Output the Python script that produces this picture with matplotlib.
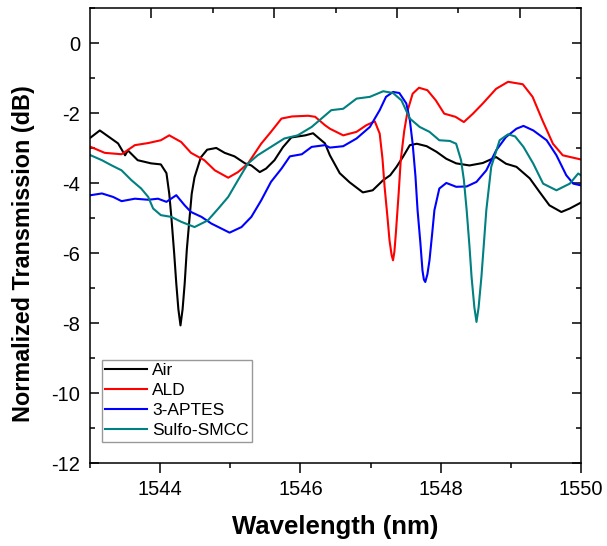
import matplotlib
matplotlib.use("Agg")
import matplotlib.pyplot as plt
from matplotlib.ticker import MultipleLocator, FixedLocator

plt.rcParams['font.family'] = ['Liberation Sans', 'DejaVu Sans']
plt.rcParams['axes.unicode_minus'] = False

# Transmission spectra (wavelength in nm, normalized transmission in dB)
air_wl = [1543.01, 1543.14, 1543.40, 1543.50, 1543.54, 1543.68, 1543.87, 1544.01, 1544.09,
          1544.13, 1544.16, 1544.20, 1544.23, 1544.26, 1544.29, 1544.32, 1544.35, 1544.38,
          1544.42, 1544.45, 1544.49, 1544.58, 1544.67, 1544.80, 1544.92, 1545.06, 1545.21,
          1545.30, 1545.42, 1545.51, 1545.63, 1545.75, 1545.87, 1546.07, 1546.18, 1546.25,
          1546.35, 1546.42, 1546.56, 1546.70, 1546.89, 1547.03, 1547.18, 1547.28, 1547.37,
          1547.46, 1547.56, 1547.66, 1547.80, 1547.94, 1548.08, 1548.22, 1548.41, 1548.60,
          1548.79, 1548.93, 1549.08, 1549.27, 1549.41, 1549.55, 1549.72, 1549.84, 1550.00]
air_db = [-2.69, -2.49, -2.86, -3.20, -3.06, -3.34, -3.43, -3.46, -3.71,
          -4.30, -4.97, -6.00, -6.86, -7.60, -8.06, -7.60, -6.86, -5.90,
          -4.97, -4.30, -3.83, -3.26, -3.04, -2.99, -3.13, -3.23, -3.43,
          -3.49, -3.68, -3.58, -3.34, -2.97, -2.69, -2.63, -2.57, -2.69,
          -2.86, -3.20, -3.71, -3.97, -4.26, -4.20, -3.91, -3.77, -3.53,
          -3.25, -2.91, -2.87, -2.94, -3.10, -3.30, -3.43, -3.49, -3.42,
          -3.25, -3.44, -3.53, -3.86, -4.25, -4.63, -4.82, -4.72, -4.55]

ald_wl = [1543.01, 1543.21, 1543.45, 1543.64, 1543.83, 1544.01, 1544.13, 1544.30, 1544.44,
          1544.63, 1544.78, 1544.97, 1545.11, 1545.25, 1545.44, 1545.58, 1545.73, 1545.88,
          1546.11, 1546.21, 1546.35, 1546.42, 1546.61, 1546.80, 1546.94, 1547.06, 1547.13,
          1547.17, 1547.20, 1547.24, 1547.27, 1547.30, 1547.32, 1547.34, 1547.36, 1547.40,
          1547.43, 1547.48, 1547.53, 1547.60, 1547.69, 1547.81, 1547.93, 1548.05, 1548.21,
          1548.33, 1548.46, 1548.60, 1548.79, 1548.96, 1549.17, 1549.31, 1549.45, 1549.60,
          1549.74, 1550.00]
ald_db = [-2.96, -3.13, -3.17, -2.91, -2.85, -2.77, -2.63, -2.82, -3.13,
          -3.34, -3.63, -3.84, -3.68, -3.44, -2.87, -2.53, -2.15, -2.09,
          -2.07, -2.10, -2.34, -2.44, -2.63, -2.53, -2.34, -2.23, -2.58,
          -3.30, -4.10, -4.95, -5.63, -6.05, -6.20, -5.95, -5.44, -4.30,
          -3.34, -2.50, -1.91, -1.44, -1.27, -1.34, -1.63, -2.01, -2.10,
          -2.25, -2.01, -1.72, -1.30, -1.10, -1.17, -1.53, -2.20, -2.87,
          -3.20, -3.32]

aptes_wl = [1543.01, 1543.17, 1543.33, 1543.45, 1543.64, 1543.83, 1543.97, 1544.09, 1544.23,
            1544.35, 1544.44, 1544.59, 1544.73, 1544.83, 1544.99, 1545.16, 1545.30, 1545.44,
            1545.58, 1545.73, 1545.85, 1546.02, 1546.16, 1546.35, 1546.42, 1546.61, 1546.80,
            1546.99, 1547.13, 1547.22, 1547.32, 1547.41, 1547.51, 1547.56, 1547.60, 1547.64,
            1547.67, 1547.71, 1547.74, 1547.76, 1547.78, 1547.81, 1547.84, 1547.88, 1547.91,
            1547.98, 1548.08, 1548.22, 1548.37, 1548.51, 1548.65, 1548.79, 1548.93, 1549.08,
            1549.18, 1549.32, 1549.51, 1549.65, 1549.79, 1549.89, 1550.00]
aptes_db = [-4.34, -4.29, -4.39, -4.51, -4.44, -4.47, -4.44, -4.53, -4.34,
            -4.63, -4.82, -4.96, -5.15, -5.25, -5.41, -5.25, -4.96, -4.49,
            -3.96, -3.58, -3.23, -3.17, -2.96, -2.91, -2.98, -2.94, -2.72,
            -2.39, -1.91, -1.53, -1.39, -1.42, -1.72, -2.20, -2.87, -3.80,
            -4.77, -5.70, -6.49, -6.75, -6.82, -6.60, -6.20, -5.40, -4.77,
            -4.15, -3.99, -4.10, -4.09, -3.96, -3.63, -3.06, -2.68, -2.44,
            -2.36, -2.49, -2.77, -3.20, -3.77, -4.01, -4.06]

smcc_wl = [1543.01, 1543.17, 1543.31, 1543.45, 1543.59, 1543.73, 1543.83, 1543.90, 1544.01,
           1544.16, 1544.30, 1544.49, 1544.68, 1544.83, 1544.97, 1545.11, 1545.25, 1545.39,
           1545.58, 1545.77, 1545.96, 1546.16, 1546.30, 1546.44, 1546.61, 1546.80, 1546.99,
           1547.18, 1547.32, 1547.44, 1547.56, 1547.70, 1547.84, 1547.98, 1548.13, 1548.22,
           1548.29, 1548.33, 1548.37, 1548.41, 1548.44, 1548.48, 1548.51, 1548.54, 1548.58,
           1548.62, 1548.65, 1548.72, 1548.84, 1548.96, 1549.06, 1549.18, 1549.32, 1549.46,
           1549.65, 1549.84, 1549.96, 1550.00]
smcc_db = [-3.20, -3.34, -3.49, -3.63, -3.91, -4.15, -4.39, -4.72, -4.91,
           -4.96, -5.10, -5.25, -5.06, -4.72, -4.39, -3.91, -3.44, -3.20,
           -2.96, -2.72, -2.63, -2.39, -2.15, -1.91, -1.87, -1.58, -1.53,
           -1.37, -1.42, -1.63, -2.15, -2.39, -2.53, -2.77, -2.79, -2.87,
           -3.34, -3.90, -4.77, -5.80, -6.68, -7.55, -7.96, -7.55, -6.68,
           -5.60, -4.77, -3.53, -2.77, -2.60, -2.66, -2.96, -3.44, -4.01,
           -4.20, -4.01, -3.72, -3.77]

series = [
    ("Air", air_wl, air_db, "#000000"),
    ("ALD", ald_wl, ald_db, "#ff0000"),
    ("3-APTES", aptes_wl, aptes_db, "#0000ff"),
    ("Sulfo-SMCC", smcc_wl, smcc_db, "#008080"),
]

x_ticks = [1544, 1546, 1548, 1550]
y_ticks = [0, -2, -4, -6, -8, -10, -12]

fig = plt.figure(figsize=(6.07, 5.46), dpi=100)
ax = fig.add_axes([90 / 607, 1 - 463.3 / 546, 491 / 607, 455 / 546])

for name, wl, db, color in series:
    ax.plot(wl, db, color=color, lw=1.5, label=name)

ax.set_xlim(1543, 1550)
ax.set_ylim(-12, 1)
ax.xaxis.set_major_locator(FixedLocator(x_ticks))
ax.xaxis.set_minor_locator(MultipleLocator(1))
ax.yaxis.set_major_locator(FixedLocator(y_ticks))
ax.yaxis.set_minor_locator(MultipleLocator(1))

for s in ax.spines.values():
    s.set_linewidth(1.1)

ax.tick_params(axis='x', which='major', direction='out', length=7.2, width=1.1,
               labelsize=14.5, pad=5)
ax.tick_params(axis='x', which='minor', direction='out', length=3.6, width=1.1)
ax.tick_params(axis='y', which='both', direction='in', left=True, right=True, width=1.1)
ax.tick_params(axis='y', which='major', length=6.8, labelsize=14.5, pad=7)
ax.tick_params(axis='y', which='minor', length=3.6)

# Mirror axis on top with its own tick spacing
top = ax.twiny()
top.set_xlim(0, 8)
top.xaxis.set_major_locator(FixedLocator([1, 3, 5, 7]))
top.xaxis.set_minor_locator(FixedLocator([2, 4, 6]))
top.tick_params(axis='x', which='major', direction='in', length=7.2, width=1.1, labeltop=False)
top.tick_params(axis='x', which='minor', direction='in', length=3.6, width=1.1)
for s in top.spines.values():
    s.set_visible(False)

ax.set_xlabel("Wavelength (nm)", fontsize=18.5, fontweight='bold', labelpad=11)
ax.set_ylabel("Normalized Transmission (dB)", fontsize=16.8, fontweight='bold')
ax.yaxis.set_label_coords(-0.112, 0.46)

leg = ax.legend(loc='lower left', bbox_to_anchor=(0.024, 0.047), borderaxespad=0,
                fontsize=12.5, frameon=True, fancybox=False, handlelength=2.4,
                handletextpad=0.3, labelspacing=0.28, borderpad=0.2)
leg.get_frame().set_edgecolor('#808080')
leg.get_frame().set_linewidth(1.0)

fig.savefig("out.png", dpi=100)
